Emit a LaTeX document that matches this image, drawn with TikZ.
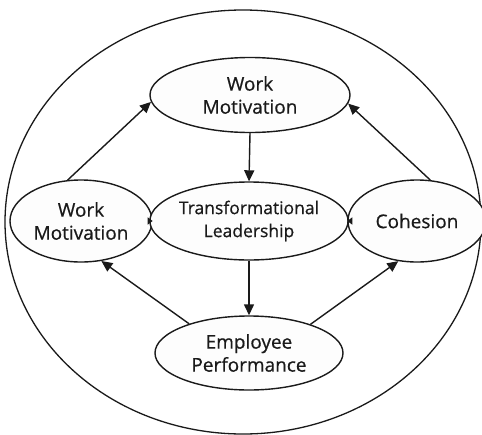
\documentclass[tikz,border=0pt]{standalone}
\usepackage{fontspec}
\setmainfont{Open Sans}[FakeBold=0.6]
\usetikzlibrary{shapes.geometric,arrows.meta}
\definecolor{ink}{HTML}{1A1A1A}
\definecolor{paper}{HTML}{FDFDFD}
\begin{document}
\begin{tikzpicture}[x=1pt,y=-1pt,
  bubble/.style={ellipse,draw=ink,line width=1.4pt,fill=paper,inner sep=0pt,
    align=center,text=ink,font=\fontsize{19}{23}\selectfont},
  link/.style={draw=ink,line width=1.4pt,-{Triangle[length=11pt,width=10pt]}},
  stub/.style={draw=ink,line width=2pt,-{Triangle[length=5pt,width=7pt]}}]
\useasboundingbox (0,0) rectangle (482,434);
\fill[white] (0,0) rectangle (482,434);
\begin{scope}
\clip (0,0) rectangle (482,434);
% outer frame
\draw[ink,line width=1.3pt] (243,222) ellipse [x radius=238,y radius=212];
% concepts
\node[bubble,minimum width=200,minimum height=75] (top) at (250,95) {Work\\Motivation};
\node[bubble,minimum width=142,minimum height=82] (left) at (81,221) {Work\\Motivation};
\node[bubble,minimum width=184,minimum height=78,font=\fontsize{17.5}{23}\selectfont] (mid) at (249,221) {Transformational\\Leadership};
\node[bubble,minimum width=138,minimum height=82] (right) at (417,221) {Cohesion};
\node[bubble,minimum width=188,minimum height=74] (bot) at (249,353) {Employee\\Performance};
\end{scope}
% relations
\draw[link] (top.south) -- (mid.north);
\draw[link] (mid.south) -- (bot.north);
\draw[link] (left.108) -- (top.184);
\draw[link] (right.72) -- (top.355);
\draw[link] (bot.154) -- (left.297);
\draw[link] (bot.25) -- (right.245);
\draw[stub] (mid.west) -- (left.east);
\draw[stub] (mid.east) -- (right.west);
\end{tikzpicture}
\end{document}
